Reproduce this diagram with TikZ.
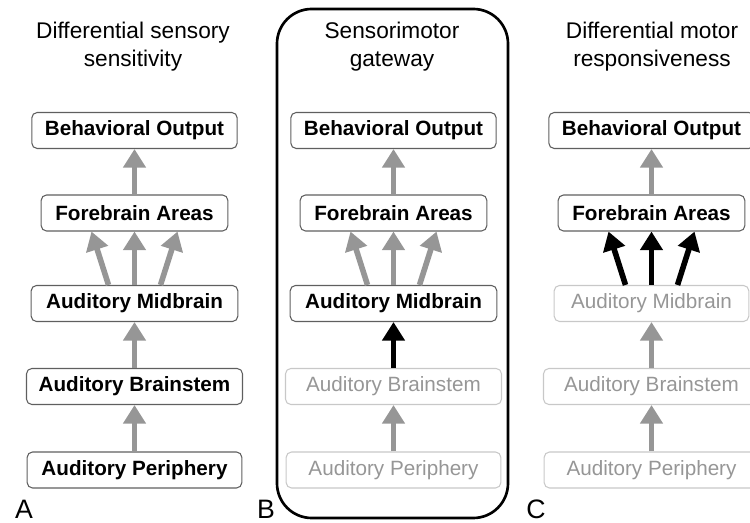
\documentclass[tikz,border=0pt]{standalone}
\usepackage{fontspec}
\setmainfont{Liberation Sans}
\usetikzlibrary{arrows.meta,calc}
\definecolor{arrgray}{RGB}{150,150,150}
\definecolor{boxline}{RGB}{95,95,95}
\definecolor{fadeline}{RGB}{200,200,200}
\definecolor{fadetext}{RGB}{150,150,150}

\begin{document}
\begin{tikzpicture}[x=0.75pt, y=-0.75pt,
	box/.style={draw=boxline, line width=0.8pt, rounded corners=4pt, minimum height=27pt, inner sep=0pt, font=\bfseries\fontsize{15.5}{18}\selectfont},
	faded/.style={box, draw=fadeline, text=fadetext, font=\fontsize{15.5}{18}\selectfont},
	title/.style={align=center, inner sep=0pt, font=\fontsize{17}{21}\selectfont},
	panel/.style={anchor=base, inner sep=0pt, font=\fontsize{20}{22}\selectfont},
	up/.style={-{Triangle[width=16.5pt, length=14pt]}, line width=4.2pt, arrgray},
	upon/.style={up, black}]
	\useasboundingbox (0, 0) rectangle (750, 523);

	% A
	\node[title] (tA) at (133, 47) {Differential sensory\\sensitivity};
	\node[box, minimum width=154pt] (boA) at (134.5, 130.5) {Behavioral Output};
	\node[box, minimum width=140pt] (faA) at (134.5, 213) {Forebrain Areas};
	\node[box, minimum width=155pt] (amA) at (134.5, 303.5) {Auditory Midbrain};
	\node[box, minimum width=162pt] (abA) at (134.5, 386.5) {Auditory Brainstem};
	\node[box, minimum width=161pt] (apA) at (134.5, 470) {Auditory Periphery};
	\node[panel] (lA) at (24, 519) {A};
	\draw[up] (faA.north) -- (boA.south);
	\draw[up] ($(amA.north)+(-26, 0)$) -- ($(faA.south)+(-43, 0)$);
	\draw[up] (amA.north) -- (faA.south);
	\draw[up] ($(amA.north)+(26, 0)$) -- ($(faA.south)+(43, 0)$);
	\draw[up] (abA.north) -- (amA.south);
	\draw[up] (apA.north) -- (abA.south);

	% B
	\draw[line width=2pt, rounded corners=26pt] (277, 9) rectangle (508, 518);
	\node[title] (tB) at (392, 47) {Sensorimotor\\gateway};
	\node[box, minimum width=154pt] (boB) at (393.5, 130.5) {Behavioral Output};
	\node[box, minimum width=140pt] (faB) at (393.5, 213) {Forebrain Areas};
	\node[box, minimum width=155pt] (amB) at (393.5, 303.5) {Auditory Midbrain};
	\node[faded, minimum width=162pt] (abB) at (393.5, 386.5) {Auditory Brainstem};
	\node[faded, minimum width=161pt] (apB) at (393.5, 470) {Auditory Periphery};
	\node[panel] (lB) at (266, 519) {B};
	\draw[up] (faB.north) -- (boB.south);
	\draw[up] ($(amB.north)+(-26, 0)$) -- ($(faB.south)+(-43, 0)$);
	\draw[up] (amB.north) -- (faB.south);
	\draw[up] ($(amB.north)+(26, 0)$) -- ($(faB.south)+(43, 0)$);
	\draw[upon] (abB.north) -- (amB.south);
	\draw[up] (apB.north) -- (abB.south);

	% C
	\node[title] (tC) at (652, 47) {Differential motor\\responsiveness};
	\node[box, minimum width=154pt] (boC) at (651.5, 130.5) {Behavioral Output};
	\node[box, minimum width=140pt] (faC) at (651.5, 213) {Forebrain Areas};
	\node[faded, minimum width=146pt] (amC) at (651.5, 303.5) {Auditory Midbrain};
	\node[faded, minimum width=162pt] (abC) at (651.5, 386.5) {Auditory Brainstem};
	\node[faded, minimum width=161pt] (apC) at (651.5, 470) {Auditory Periphery};
	\node[panel] (lC) at (536, 519) {C};
	\draw[up] (faC.north) -- (boC.south);
	\draw[upon] ($(amC.north)+(-26, 0)$) -- ($(faC.south)+(-43, 0)$);
	\draw[upon] (amC.north) -- (faC.south);
	\draw[upon] ($(amC.north)+(26, 0)$) -- ($(faC.south)+(43, 0)$);
	\draw[up] (abC.north) -- (amC.south);
	\draw[up] (apC.north) -- (abC.south);
\end{tikzpicture}
\end{document}
